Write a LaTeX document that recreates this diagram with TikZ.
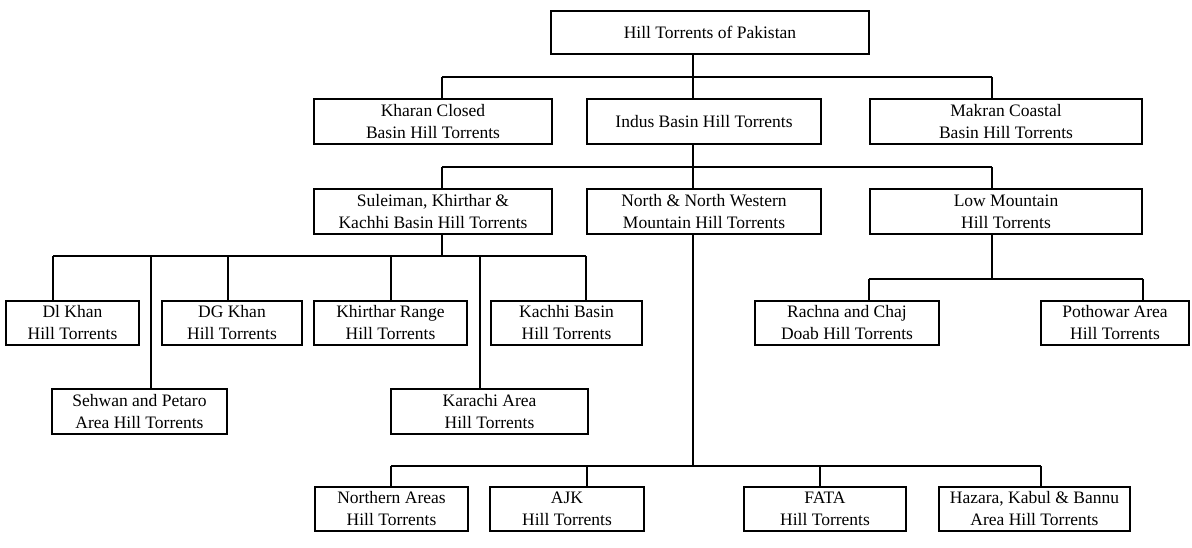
\documentclass[tikz,border=0pt]{standalone}
\usepackage{fontspec}
\setmainfont{Liberation Serif}
\newcommand\mkbox[6]{\node[box, minimum width={#4-#2}, minimum height={#5-#3}] (#1) at ({(#2+#4)/2},{(#3+#5)/2}) {#6};}
\begin{document}
\begin{tikzpicture}[x=1pt,y=-1pt,
  box/.style={draw=black, line width=1.5pt, inner sep=0pt, outer sep=0pt, align=center,
    font=\fontsize{17.5}{22}\selectfont},
  conn/.style={draw=black, line width=1.2pt}]
\useasboundingbox[fill=white] (0,0) rectangle (1192,548);
% level 1
\mkbox{root}{551}{11}{869}{54}{Hill Torrents of Pakistan}
% level 2
\mkbox{kharan}{314}{99}{552}{144}{Kharan Closed\\Basin Hill Torrents}
\mkbox{indus}{587}{99}{821}{144}{Indus Basin Hill Torrents}
\mkbox{makran}{870}{99}{1142}{144}{Makran Coastal\\Basin Hill Torrents}
% level 3
\mkbox{sul}{314}{189}{552}{234}{Suleiman, Khirthar \&\\Kachhi Basin Hill Torrents}
\mkbox{nnw}{587}{189}{821}{234}{North \& North Western\\Mountain Hill Torrents}
\mkbox{low}{870}{189}{1142}{234}{Low Mountain\\Hill Torrents}
% level 4
\mkbox{dik}{6}{301}{139}{345}{Dl Khan\\Hill Torrents}
\mkbox{dgk}{162}{301}{302}{345}{DG Khan\\Hill Torrents}
\mkbox{khr}{314}{301}{467}{345}{Khirthar Range\\Hill Torrents}
\mkbox{kac}{491}{301}{642}{345}{Kachhi Basin\\Hill Torrents}
\mkbox{seh}{52}{389}{227}{434}{Sehwan and Petaro\\Area Hill Torrents}
\mkbox{kar}{391}{389}{588}{434}{Karachi Area\\Hill Torrents}
\mkbox{rac}{755}{301}{939}{345}{Rachna and Chaj\\Doab Hill Torrents}
\mkbox{pot}{1041}{301}{1189}{345}{Pothowar Area\\Hill Torrents}
% level 5
\mkbox{nor}{315}{487}{468}{531}{Northern Areas\\Hill Torrents}
\mkbox{ajk}{490}{487}{644}{531}{AJK\\Hill Torrents}
\mkbox{fata}{744}{487}{906}{531}{FATA\\Hill Torrents}
\mkbox{haz}{939}{487}{1130}{531}{Hazara, Kabul \& Bannu\\Area Hill Torrents}

% root -> level 2
\coordinate (j1) at (693,77);
\coordinate (b1l) at (442,77);
\coordinate (b1r) at (992,77);
\draw[conn] (root.south -| j1) -- (j1);
\draw[conn] (b1l) -- (b1r);
\draw[conn] (b1l) -- (kharan.north -| b1l);
\draw[conn] (j1) -- (indus.north -| j1);
\draw[conn] (b1r) -- (makran.north -| b1r);

% indus -> level 3
\coordinate (j2) at (693,167);
\coordinate (b2l) at (442,167);
\coordinate (b2r) at (992,167);
\draw[conn] (indus.south -| j2) -- (j2);
\draw[conn] (b2l) -- (b2r);
\draw[conn] (b2l) -- (sul.north -| b2l);
\draw[conn] (j2) -- (nnw.north -| j2);
\draw[conn] (b2r) -- (low.north -| b2r);

% suleiman -> level 4
\coordinate (j3) at (442,256);
\coordinate (b3a) at (53,256);
\coordinate (b3b) at (151,256);
\coordinate (b3c) at (228,256);
\coordinate (b3d) at (391,256);
\coordinate (b3e) at (480,256);
\coordinate (b3f) at (586,256);
\draw[conn] (sul.south -| j3) -- (j3);
\draw[conn] (b3a) -- (b3f);
\draw[conn] (b3a) -- (dik.north -| b3a);
\draw[conn] (b3b) -- (seh.north -| b3b);
\draw[conn] (b3c) -- (dgk.north -| b3c);
\draw[conn] (b3d) -- (khr.north -| b3d);
\draw[conn] (b3e) -- (kar.north -| b3e);
\draw[conn] (b3f) -- (kac.north -| b3f);

% low mountain -> level 4
\coordinate (j5) at (992,279);
\coordinate (b5l) at (869,279);
\coordinate (b5r) at (1143,279);
\draw[conn] (low.south -| j5) -- (j5);
\draw[conn] (b5l) -- (b5r);
\draw[conn] (b5l) -- (rac.north -| b5l);
\draw[conn] (b5r) -- (pot.north -| b5r);

% north & north western -> level 5
\coordinate (j4) at (693,466);
\coordinate (b4a) at (391,466);
\coordinate (b4b) at (587,466);
\coordinate (b4c) at (820,466);
\coordinate (b4d) at (1041,466);
\draw[conn] (nnw.south -| j4) -- (j4);
\draw[conn] (b4a) -- (b4d);
\draw[conn] (b4a) -- (nor.north -| b4a);
\draw[conn] (b4b) -- (ajk.north -| b4b);
\draw[conn] (b4c) -- (fata.north -| b4c);
\draw[conn] (b4d) -- (haz.north -| b4d);
\end{tikzpicture}
\end{document}
